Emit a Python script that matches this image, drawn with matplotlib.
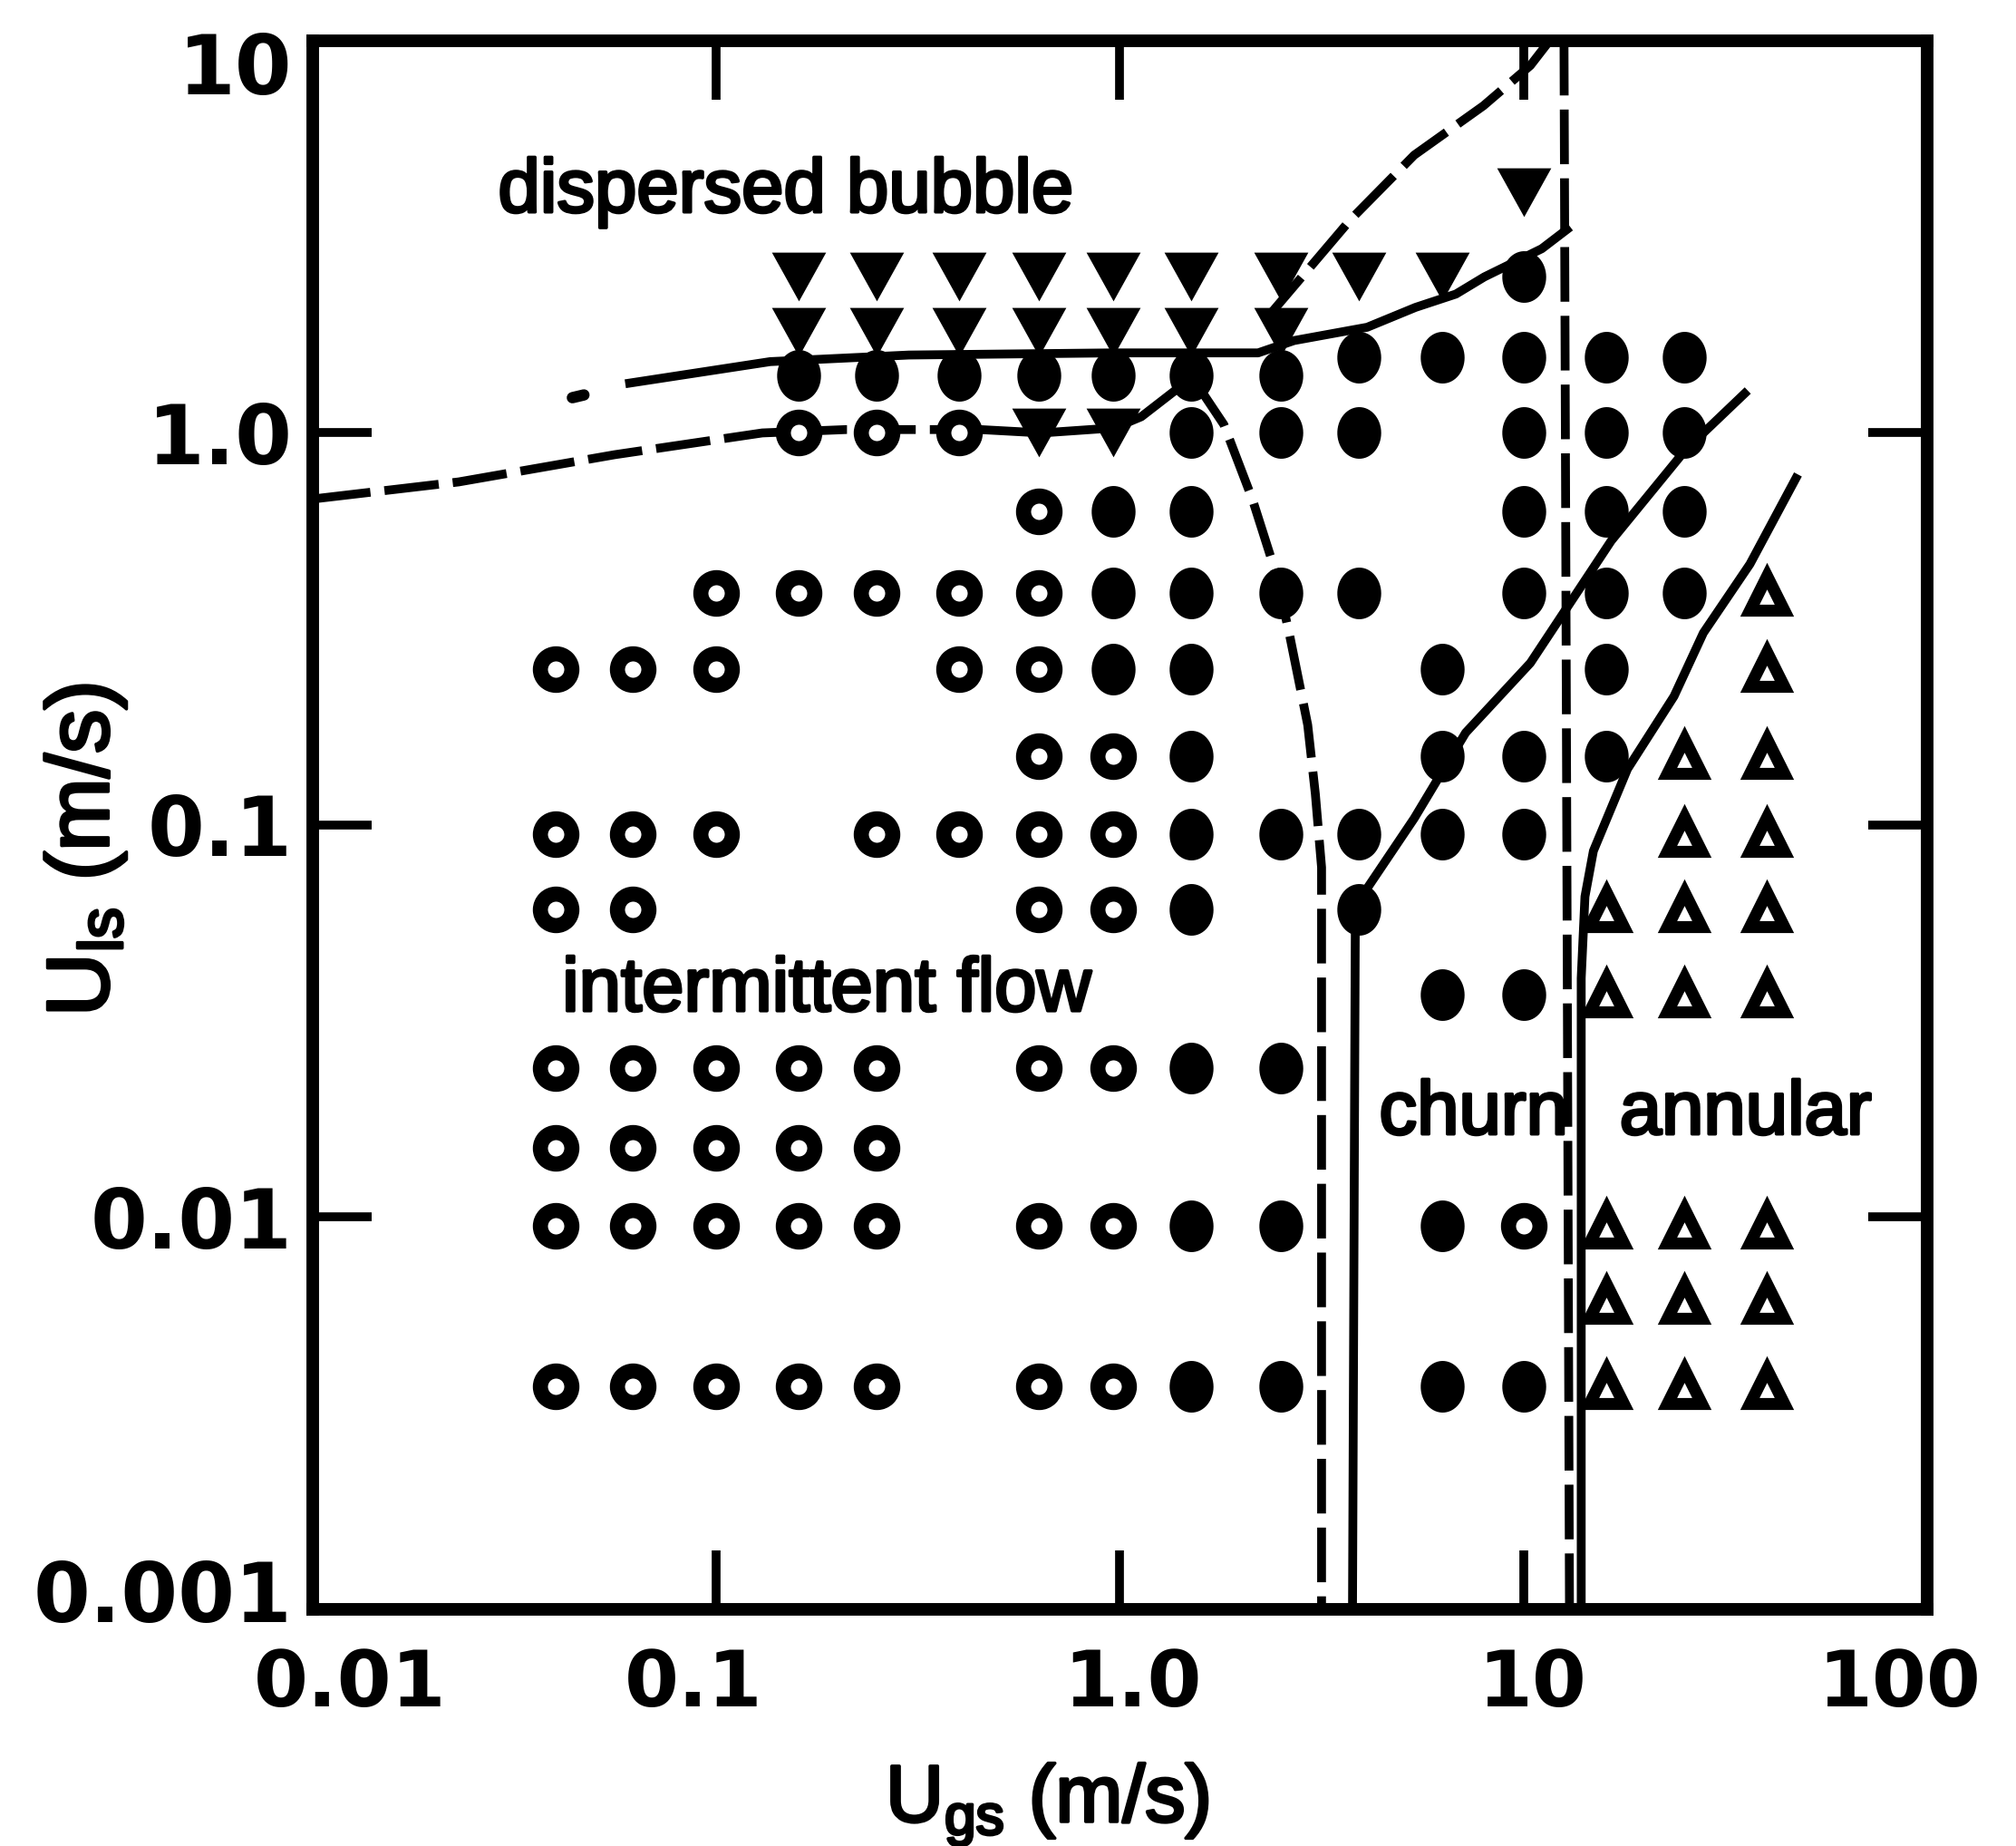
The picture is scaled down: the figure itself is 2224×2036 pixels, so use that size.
import matplotlib
matplotlib.use("Agg")
import matplotlib.pyplot as plt
import matplotlib.patheffects as pe
import numpy as np
from matplotlib.ticker import FixedLocator, FixedFormatter, NullLocator
from matplotlib.transforms import ScaledTranslation

plt.rcParams['mathtext.fontset'] = 'custom'
plt.rcParams['mathtext.rm'] = 'Liberation Sans'
plt.rcParams['mathtext.it'] = 'Liberation Sans:italic'

intermittent_open = [
    (1.0,    [0.16, 0.25, 0.4]),
    (0.63,   [0.63]),
    (0.39,   [0.1, 0.16, 0.25, 0.4, 0.63]),
    (0.25,   [0.04, 0.062, 0.1, 0.4, 0.63]),
    (0.15,   [0.63, 0.96]),
    (0.095,  [0.04, 0.062, 0.1, 0.25, 0.4, 0.63, 0.96]),
    (0.061,  [0.04, 0.062, 0.63, 0.96]),
    (0.024,  [0.04, 0.062, 0.1, 0.16, 0.25, 0.63, 0.96]),
    (0.015,  [0.04, 0.062, 0.1, 0.16, 0.25]),
    (0.0095, [0.04, 0.062, 0.1, 0.16, 0.25, 0.63, 0.96, 10]),
    (0.0037, [0.04, 0.062, 0.1, 0.16, 0.25, 0.63, 0.96]),
]
intermittent_filled = [
    (2.5,    [10]),
    (1.56,   [3.9, 6.3, 10, 16, 25]),
    (1.40,   [0.16, 0.25, 0.4, 0.63, 0.96, 1.5, 2.5]),
    (1.0,    [1.5, 2.5, 3.9, 10, 16, 25]),
    (0.63,   [0.96, 1.5, 10, 16, 25]),
    (0.39,   [0.96, 1.5, 2.5, 3.9, 10, 16, 25]),
    (0.25,   [0.96, 1.5, 6.3, 16]),
    (0.15,   [1.5, 6.3, 10, 16]),
    (0.095,  [1.5, 2.5, 3.9, 6.3, 10]),
    (0.061,  [1.5, 3.9]),
    (0.037,  [6.3, 10]),
    (0.024,  [1.5, 2.5]),
    (0.0095, [1.5, 2.5, 6.3]),
    (0.0037, [1.5, 2.5, 6.3, 10]),
]
dispersed = [
    (4.1,  [10]),
    (2.5,  [0.16, 0.25, 0.4, 0.63, 0.96, 1.5, 2.5, 3.9, 6.3]),
    (1.81, [0.16, 0.25, 0.4, 0.63, 0.96, 1.5, 2.5]),
    (1.0,  [0.63, 0.96]),
]
annular = [
    (0.39,   [40]),
    (0.25,   [40]),
    (0.15,   [25, 40]),
    (0.095,  [25, 40]),
    (0.061,  [16, 25, 40]),
    (0.037,  [16, 25, 40]),
    (0.0095, [16, 25, 40]),
    (0.0061, [16, 25, 40]),
    (0.0037, [16, 25, 40]),
]

# ---- transition boundaries ----
bub_dash_x = [0.0102, 0.023, 0.056, 0.13, 0.21, 0.45]
bub_dash_y = [0.68, 0.75, 0.88, 1.0, 1.02, 1.02]
bub_solid_x = [0.45, 0.64, 0.97, 1.13, 1.38, 1.53]
bub_solid_y = [1.02, 1.0, 1.03, 1.1, 1.29, 1.36]

db_x = [0.061, 0.136, 0.3, 0.96, 2.2, 2.7, 4.1, 5.4, 6.8, 8.0, 11.1, 12.8]
db_y = [1.34, 1.52, 1.58, 1.6, 1.6, 1.72, 1.86, 2.09, 2.26, 2.5, 2.95, 3.3]
db_dot_x = [0.044, 0.047]
db_dot_y = [1.23, 1.25]

upper_x = [2.3, 3.72, 5.36, 7.96, 10.4, 11.6]
upper_y = [1.95, 3.49, 5.11, 6.83, 8.65, 10.0]

vert_x = [12.6, 12.8, 13.0]
vert_y = [10.0, 0.1, 0.001]

slug_churn_x = [1.53, 1.81, 2.13, 2.43, 2.63, 2.92, 3.05, 3.16, 3.16]
slug_churn_y = [1.36, 1.05, 0.677, 0.442, 0.307, 0.18, 0.12, 0.078, 0.001]

churn_l_x = [35.3, 25.2, 16.5, 10.4, 7.19, 5.36, 3.97, 3.83, 3.77]
churn_l_y = [1.26, 0.905, 0.531, 0.259, 0.172, 0.104, 0.0657, 0.0531, 0.001]

annular_l_x = [47.3, 36.4, 27.9, 23.6, 18.1, 14.9, 14.2, 13.9, 13.9]
annular_l_y = [0.766, 0.463, 0.309, 0.213, 0.139, 0.0859, 0.0657, 0.0407, 0.001]

x_ticks = [0.01, 0.1, 1.0, 10, 100]
x_labels = ['0.01', '0.1', '1.0', '10', '100']
y_ticks = [0.001, 0.01, 0.1, 1.0, 10]
y_labels = ['0.001', '0.01', '0.1', '1.0', '10']


def unpack(rows):
    xs = [x for y, row in rows for x in row]
    ys = [y for y, row in rows for x in row]
    return xs, ys


# slightly tall symbols, as in the scanned original
t = np.linspace(0, 2 * np.pi, 60)
ellipse = list(zip(0.85 * np.cos(t), np.sin(t)))
down_tri = [(-1, 0.9), (1, 0.9), (0, -0.9), (-1, 0.9)]

fig = plt.figure(figsize=(22.24, 20.36), dpi=100)
ax = fig.add_axes([0.1551, 0.1282, 0.8008, 0.8497])
ax.set_xscale('log')
ax.set_yscale('log')
ax.set_xlim(0.01, 100)
ax.set_ylim(0.001, 10)

dash = (0, (6.2, 1.6))
lw = 7
ax.plot(bub_dash_x, bub_dash_y, color='black', lw=lw, ls=dash)
ax.plot(bub_solid_x, bub_solid_y, color='black', lw=lw)
ax.plot(db_x, db_y, color='black', lw=lw)
ax.plot(db_dot_x, db_dot_y, color='black', lw=lw + 2, solid_capstyle='round')
ax.plot(upper_x, upper_y, color='black', lw=lw, ls=dash)
ax.plot(vert_x, vert_y, color='black', lw=lw, ls=dash)
ax.plot(slug_churn_x, slug_churn_y, color='black', lw=lw, ls=dash)
ax.plot(churn_l_x, churn_l_y, color='black', lw=lw)
ax.plot(annular_l_x, annular_l_y, color='black', lw=lw)

x, y = unpack(intermittent_open)
ax.plot(x, y, ls='none', marker='o', ms=25, mew=12, mec='black', mfc='white', zorder=5)
x, y = unpack(intermittent_filled)
ax.plot(x, y, ls='none', marker=ellipse, ms=41, mew=0, mfc='black', zorder=5)
x, y = unpack(dispersed)
ax.plot(x, y, ls='none', marker=down_tri, ms=43, mew=0, mfc='black', zorder=5)
x, y = unpack(annular)
ax.plot(x, y, ls='none', marker='^', ms=27, mew=9.5, mec='black', mfc='white', zorder=5)

heavy = [pe.withStroke(linewidth=2.5, foreground='black')]
txt = dict(fontsize=60, family='Liberation Sans', va='baseline', ha='left',
           path_effects=heavy)
ax.text(0.0288, 3.66, 'dispersed bubble', **txt)
ax.text(0.0415, 0.0336, 'intermittent flow', **txt)
ax.text(4.39, 0.0163, 'churn', **txt)
ax.text(17.3, 0.0163, 'annular', **txt)

# axes frame and ticks
for s in ax.spines.values():
    s.set_linewidth(10)
ax.xaxis.set_major_locator(FixedLocator(x_ticks))
ax.xaxis.set_major_formatter(FixedFormatter(x_labels))
ax.yaxis.set_major_locator(FixedLocator(y_ticks))
ax.yaxis.set_major_formatter(FixedFormatter(y_labels))
ax.xaxis.set_minor_locator(NullLocator())
ax.yaxis.set_minor_locator(NullLocator())
ax.tick_params(axis='both', which='major', direction='in', length=47, width=7,
               top=True, right=True)
ax.tick_params(axis='x', pad=30, labelsize=62)
ax.tick_params(axis='y', pad=16, labelsize=65)

# the scanned labels sit a little off their ticks
x_shift = [41, -25, 14, 10, -31]
y_shift = [20, 0, 0, 0, -25]
for tick, dx in zip(ax.xaxis.get_major_ticks(), x_shift):
    tick.label1.set_fontfamily('DejaVu Sans')
    tick.label1.set_fontweight('bold')
    tick.label1.set_transform(tick.label1.get_transform()
                              + ScaledTranslation(dx / 100, 0, fig.dpi_scale_trans))
for tick, dy in zip(ax.yaxis.get_major_ticks(), y_shift):
    tick.label1.set_fontfamily('DejaVu Sans')
    tick.label1.set_fontweight('bold')
    tick.label1.set_transform(tick.label1.get_transform()
                              + ScaledTranslation(0, dy / 100, fig.dpi_scale_trans))

ax.set_xlabel(r'U$_{\mathrm{gs}}$ (m/s)', fontsize=64, family='Liberation Sans',
              path_effects=heavy)
ax.set_ylabel(r'U$_{\mathrm{ls}}$ (m/s)', fontsize=70, family='Liberation Sans',
              path_effects=heavy)
ax.xaxis.set_label_coords(0.455, -0.097)
ax.yaxis.set_label_coords(-0.114, 0.484)

fig.savefig('out.png', dpi=100, facecolor='white')
